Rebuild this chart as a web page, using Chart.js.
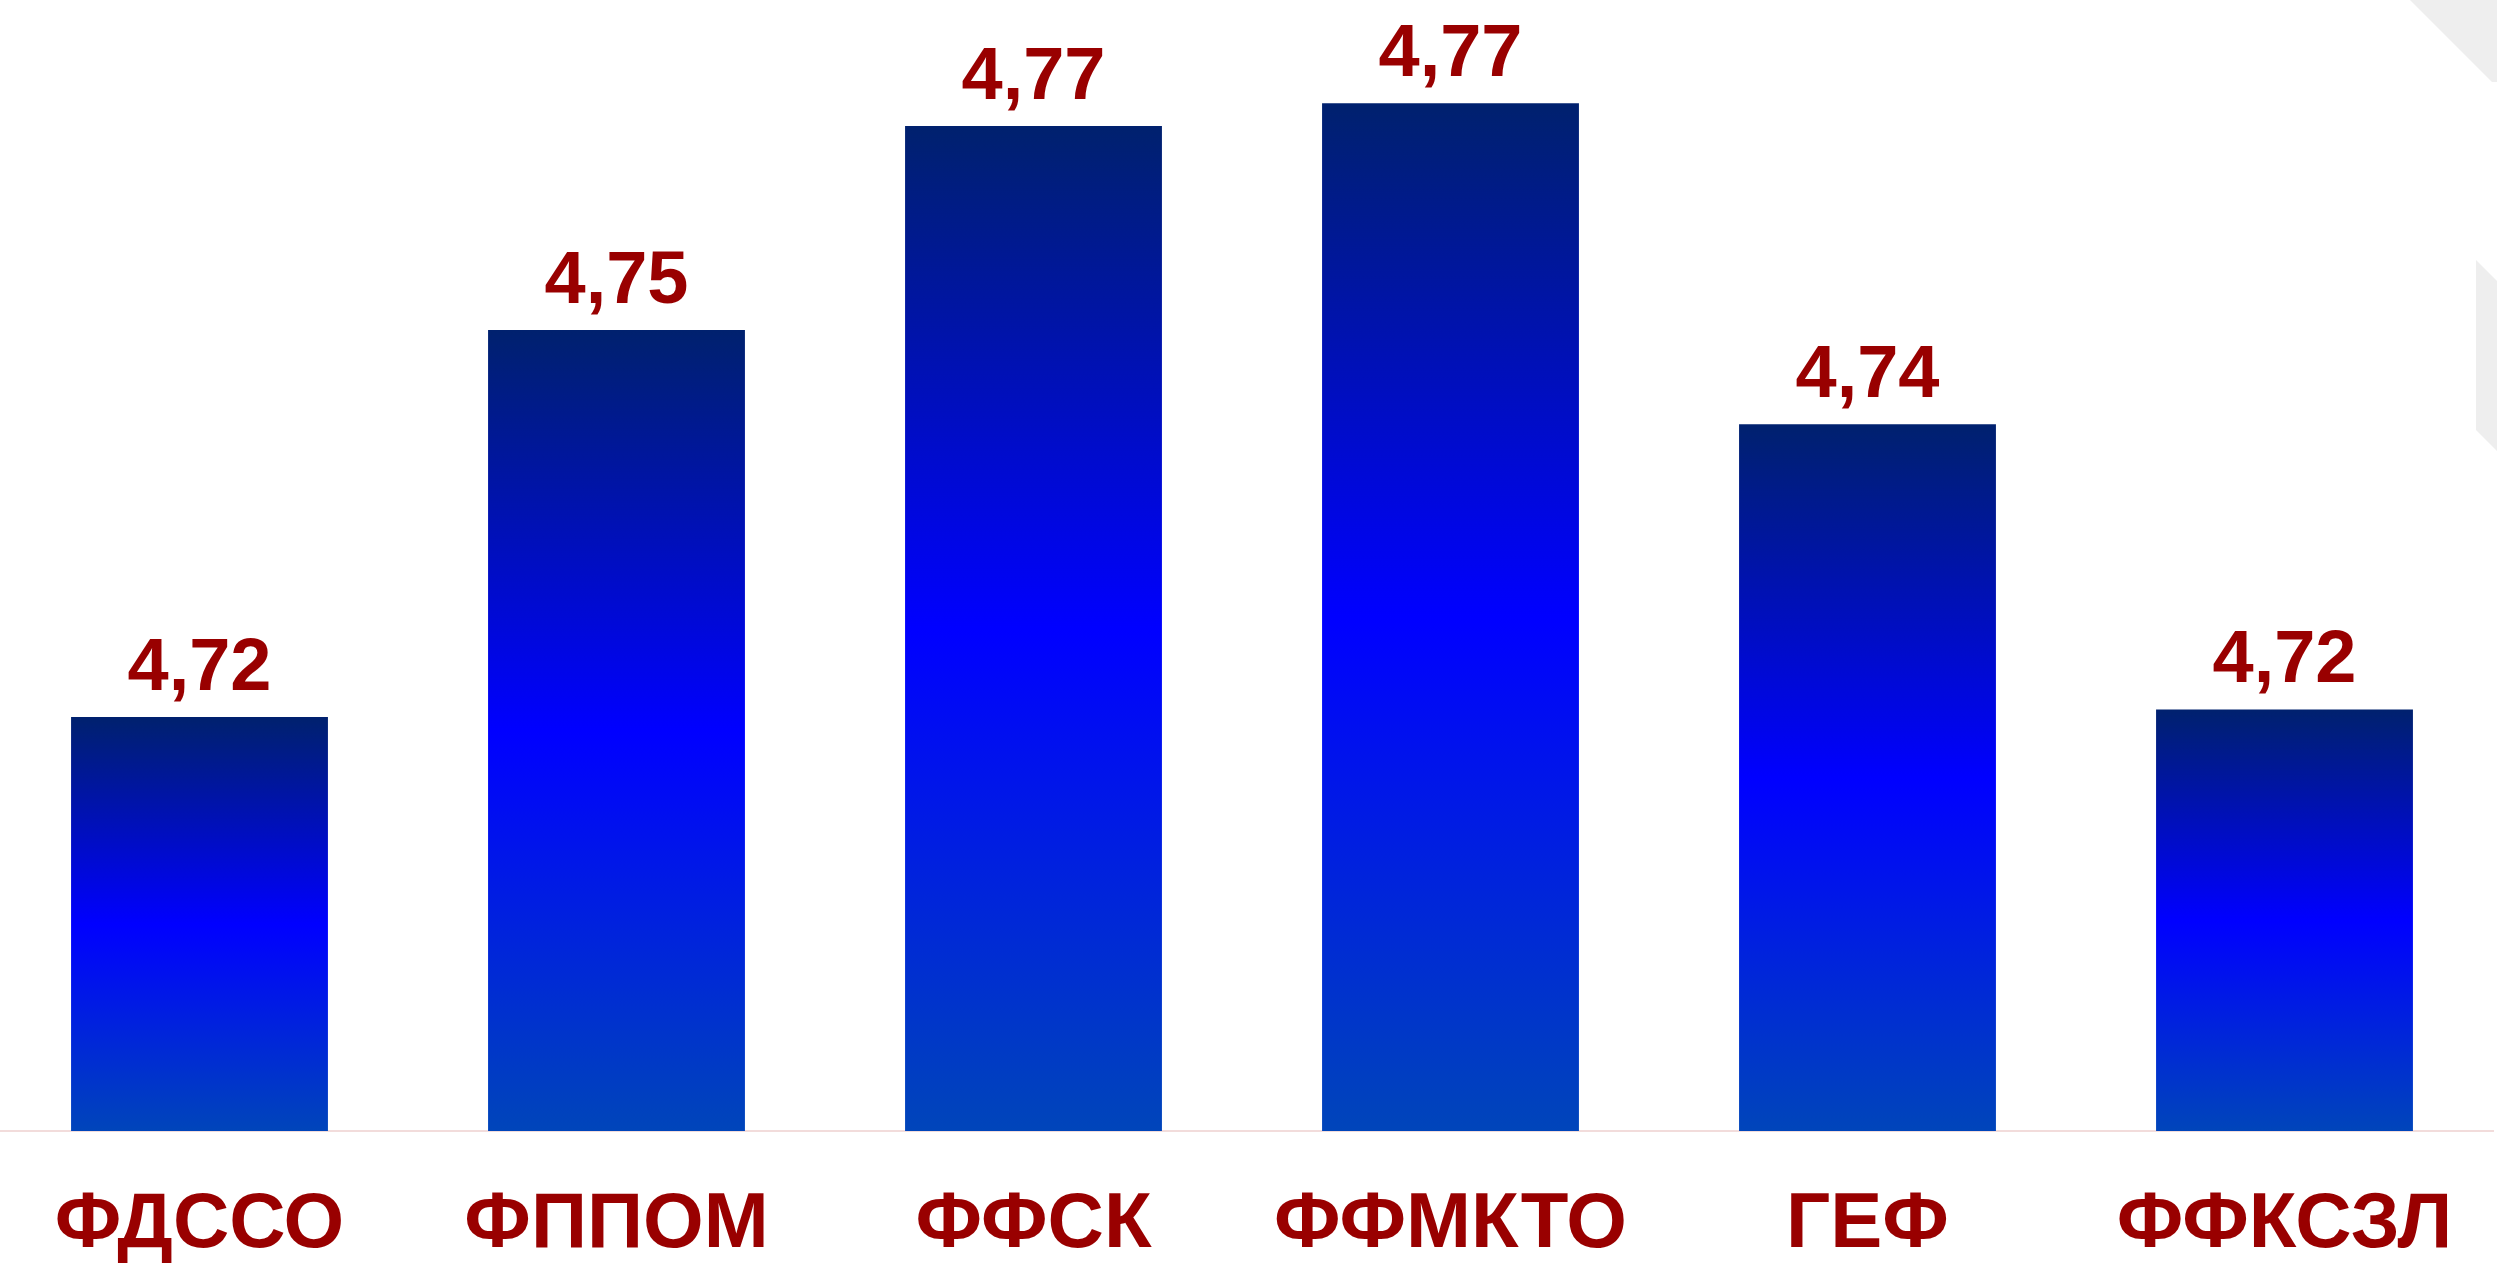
<!DOCTYPE html>
<html>
<head>
<meta charset="utf-8">
<script src="https://cdn.jsdelivr.net/npm/chart.js@4.4.1/dist/chart.umd.min.js"></script>
<style>
  html, body { margin: 0; padding: 0; background: #ffffff; overflow: hidden; width: 2497px; height: 1275px; }
  #wrap { position: absolute; left: -9px; top: 0; width: 2506px; height: 1275px; }
</style>
</head>
<body>
<div id="wrap"><canvas id="c" width="2506" height="1275"></canvas></div>
<script>
// ---- data ----
const categories = ['ФДССО', 'ФППОМ', 'ФФСК', 'ФФМКТО', 'ГЕФ', 'ФФКСЗЛ'];
const values = [4.7205, 4.7509, 4.7669, 4.7687, 4.7435, 4.7211];
const yMin = 4.688;
const yMax = 4.7768;

// ---- styles ----
const LABEL_COLOR = '#990000';
const FONT_FAMILY = '"Liberation Sans", Arial, sans-serif';
const OX = 9; // canvas is shifted 9px left of the page

function formatValue(v) {
  return v.toFixed(2).replace('.', ',');
}

function barGradient(ctx) {
  const chart = ctx.chart;
  const area = chart.chartArea;
  if (!area || ctx.type !== 'data') return '#0000FF';
  const ys = chart.scales.y;
  const top = ys.getPixelForValue(ctx.raw);
  const bottom = ys.getPixelForValue(ys.min);
  const g = chart.ctx.createLinearGradient(0, top, 0, bottom);
  g.addColorStop(0, '#00216E');
  g.addColorStop(0.5, '#0000FF');
  g.addColorStop(1, '#0045BA');
  return g;
}

const decorPlugin = {
  id: 'decor',
  beforeDraw(chart) {
    const c = chart.ctx;
    c.save();
    c.fillStyle = '#EEEEEE';
    c.beginPath();
    c.moveTo(2410 + OX, 0);
    c.lineTo(2497 + OX, 0);
    c.lineTo(2497 + OX, 82);
    c.lineTo(2492 + OX, 82);
    c.closePath();
    c.fill();
    c.beginPath();
    c.moveTo(2476 + OX, 260);
    c.lineTo(2497 + OX, 281);
    c.lineTo(2497 + OX, 451);
    c.lineTo(2476 + OX, 430);
    c.closePath();
    c.fill();
    c.restore();
  }
};

const valueLabelPlugin = {
  id: 'valueLabels',
  afterDatasetsDraw(chart) {
    const c = chart.ctx;
    const meta = chart.getDatasetMeta(0);
    const data = chart.data.datasets[0].data;
    c.save();
    c.fillStyle = LABEL_COLOR;
    c.font = 'bold 74px ' + FONT_FAMILY;
    c.textAlign = 'center';
    c.textBaseline = 'alphabetic';
    meta.data.forEach((el, i) => {
      c.fillText(formatValue(data[i]), el.x, el.y - 27);
    });
    c.restore();
  }
};

new Chart(document.getElementById('c'), {
  type: 'bar',
  data: {
    labels: categories,
    datasets: [{
      data: values,
      backgroundColor: barGradient,
      borderWidth: 0,
      categoryPercentage: 1.0,
      barPercentage: 0.616
    }]
  },
  options: {
    responsive: false,
    animation: false,
    layout: { padding: { top: 0, left: 0, right: 4, bottom: 0 } },
    plugins: {
      legend: { display: false },
      tooltip: { enabled: false },
      title: { display: false }
    },
    scales: {
      x: {
        grid: { display: false, drawTicks: false },
        border: { display: true, color: '#F2DCDB', width: 2 },
        ticks: {
          color: LABEL_COLOR,
          padding: 48,
          font: { family: FONT_FAMILY, size: 78, weight: 'bold' }
        },
        afterFit(scale) {
          scale.height = 144;
          scale.paddingLeft = 0;
          scale.paddingRight = 0;
        }
      },
      y: {
        display: false,
        min: yMin,
        max: yMax
      }
    }
  },
  plugins: [decorPlugin, valueLabelPlugin]
});
</script>
</body>
</html>
